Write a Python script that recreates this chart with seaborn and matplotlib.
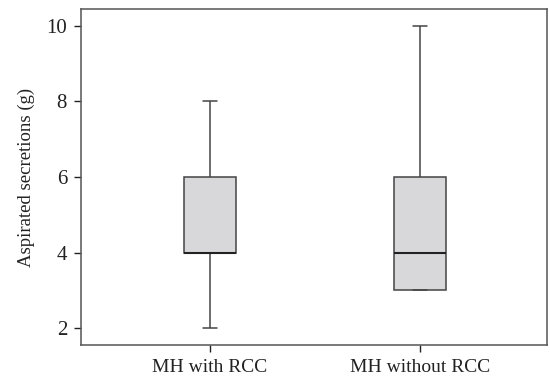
import pandas as pd
import matplotlib
matplotlib.use("Agg")
import matplotlib.pyplot as plt
import seaborn as sns

# raw values chosen so the box stats match the figure
with_rcc = [2, 4, 4, 4, 6, 6, 8]
without_rcc = [3, 3, 3, 4, 6, 6, 10]
groups = ["MH with RCC", "MH without RCC"]
yticks = [2, 4, 6, 8, 10]

data = pd.DataFrame({
    "group": [groups[0]] * len(with_rcc) + [groups[1]] * len(without_rcc),
    "value": with_rcc + without_rcc,
})

sns.set_style("ticks")
plt.rcParams["font.family"] = ["Liberation Serif", "DejaVu Serif"]

fig = plt.figure(figsize=(5.5, 3.76), dpi=100)
ax = fig.add_axes([81 / 550, 31 / 376, 466 / 550, 336 / 376])

line = dict(color="#444444", linewidth=1.1)
sns.boxplot(data=data, x="group", y="value", ax=ax, width=0.25,
            color="#d8d8da", saturation=1, whis=1.5, showfliers=False,
            capwidths=0.065,
            boxprops=dict(edgecolor="#444444", linewidth=1.1),
            whiskerprops=line, capprops=line,
            medianprops=dict(color="#222222", linewidth=1.5))

ax.set_xlim(-0.614, 1.605)
ax.set_ylim(1.55, 10.45)
ax.set_yticks(yticks)
ax.set_xlabel("")
ax.set_ylabel("Aspirated secretions (g)", fontsize=13.5, color="#222222", labelpad=8)
ax.tick_params(axis="both", labelsize=15, colors="#222222", length=5, width=1, pad=5)
ax.tick_params(axis="x", labelsize=14)
for s in ax.spines.values():
    s.set_visible(True)
    s.set_color("#555555")
    s.set_linewidth(1.1)

fig.savefig("out.png", dpi=100)
